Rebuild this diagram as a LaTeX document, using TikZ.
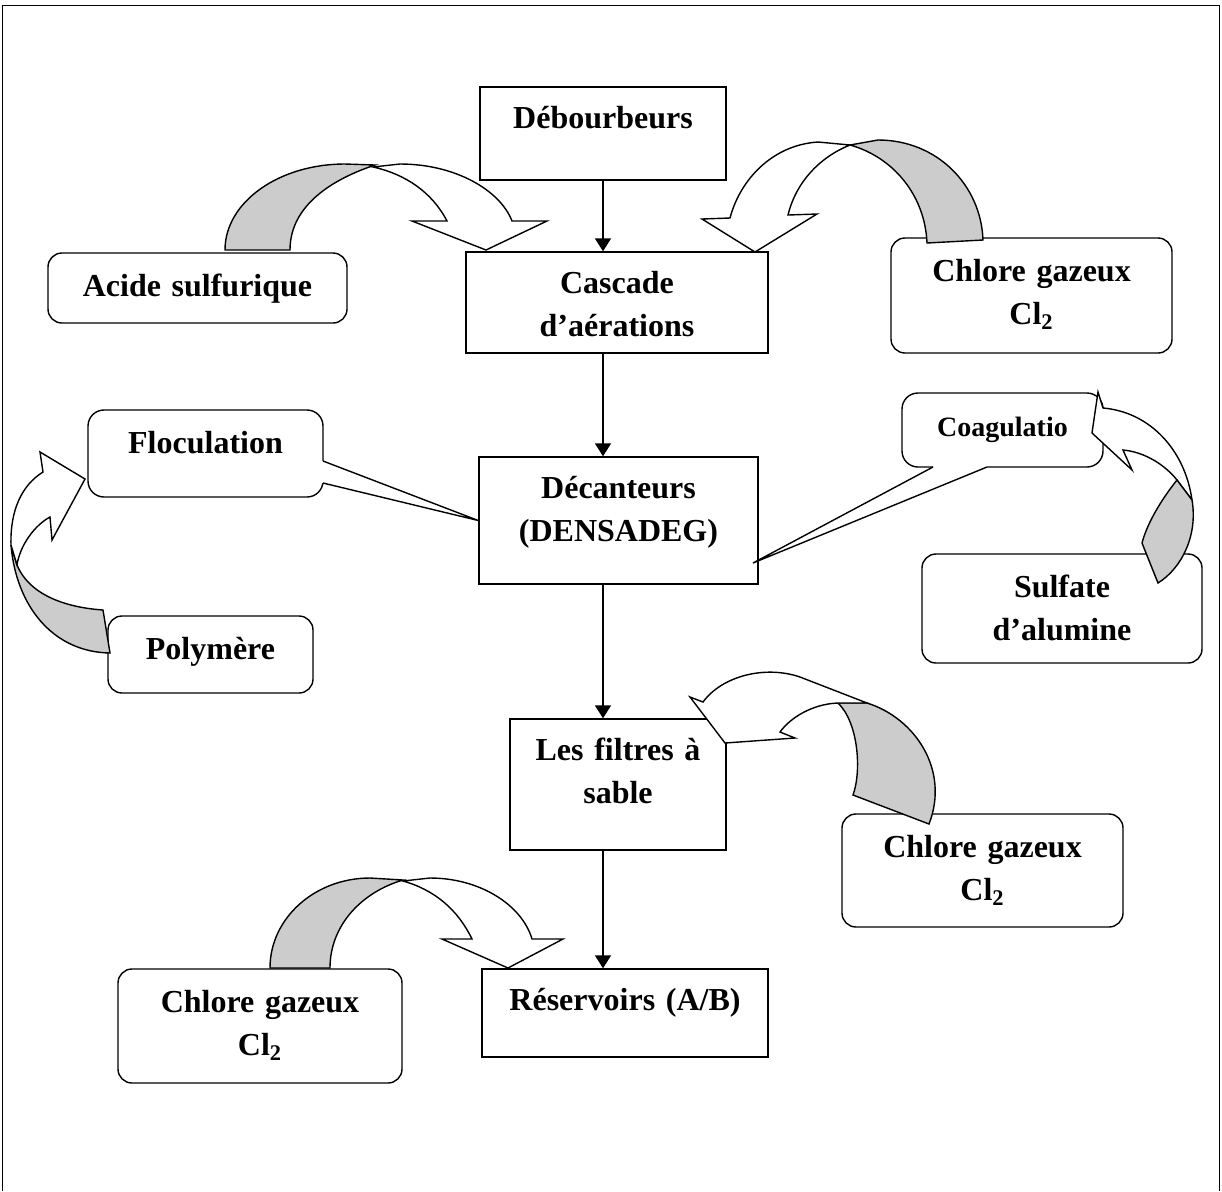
\documentclass[tikz,border=0pt]{standalone}
\usepackage{fontspec}
\setmainfont{Liberation Serif}
\usetikzlibrary{arrows.meta}
\tikzset{
    > = {Triangle[length=6.5pt,width=8pt]},
    mainbox/.style 2 args = {draw, line width=0.7pt, inner sep=0pt, align=center,
        text width=#1, text height=20.5pt, text depth=#2},
    sidebox/.style 2 args = {mainbox={#1}{#2}, rounded corners=7pt, text height=21.5pt},
    flow/.style = {->, line width=0.8pt},
    back/.style = {draw, line width=0.7pt, fill=gray!40},
    front/.style = {draw, line width=0.7pt, fill=white}
}

\begin{document}
\begin{tikzpicture}[x=0.5pt, y=-0.5pt, font=\bfseries\fontsize{16}{21.5}\selectfont]
    \useasboundingbox (0,0) rectangle (1222,1191);
    \draw[line width=0.7pt] (2.5,1191) -- (2.5,5.5) -- (1219.5,5.5) -- (1219.5,1191);

    % main line
    \node[mainbox={123pt}{26pt}] (deb) at (603,133.5) {Débourbeurs};
    \node[mainbox={151pt}{30pt}] (cas) at (617,302.5) {Cascade\\d’aérations};
    \node[mainbox={139.5pt}{43pt}] (dec) at (618.5,520.5) {Décanteurs\\(DENSADEG)};
    \node[mainbox={108pt}{45pt}] (fil) at (618,784.5) {Les filtres à\\sable};
    \node[mainbox={143pt}{23.5pt}] (res) at (625,1013) {Réservoirs (A/B)};

    \draw[flow] (deb) -- (deb |- cas.north);
    \draw[flow] (deb |- cas.south) -- (deb |- dec.north);
    \draw[flow] (deb |- dec.south) -- (deb |- fil.north);
    \draw[flow] (deb |- fil.south) -- (deb |- res.north);

    % reagents
    \node[sidebox={149.5pt}{13.5pt}] (acid) at (197.5,288) {Acide sulfurique};
    \node[sidebox={140.5pt}{36pt}] (clA) at (1031.5,295.5) {Chlore gazeux\\Cl\textsubscript{2}};
    \node[sidebox={117.5pt}{22pt}, rounded corners=8pt] (floc) at (205.5,453.5) {Floculation};
    \node[sidebox={102.5pt}{17pt}] (poly) at (210.5,654.5) {Polymère};
    \node[sidebox={100.5pt}{15.5pt}, rounded corners=8pt,
        font=\bfseries\fontsize{14}{18}\selectfont] (coag) at (1002.5,430) {Coagulatio};
    \node[sidebox={140pt}{33pt}] (sulf) at (1062,608.5) {Sulfate\\d’alumine};
    \node[sidebox={140.5pt}{35pt}] (clB) at (982.5,870.5) {Chlore gazeux\\Cl\textsubscript{2}};
    \node[sidebox={142pt}{35.5pt}] (clC) at (260,1026) {Chlore gazeux\\Cl\textsubscript{2}};

    % callout wedges
    \coordinate (coagtip) at (753,563);
    \fill[white] (320,461) -- (323,461) -- (dec.west) -- (323,483) -- (320,483) -- cycle;
    \draw[line width=0.7pt] (323,461) -- (dec.west) -- (323,483);
    \fill[white] (933,464) -- (933,467) -- (coagtip) -- (987,467) -- (987,464) -- cycle;
    \draw[line width=0.7pt] (933,467) -- (coagtip) -- (987,467);

    % curved arrows
    \draw[back] (225,250) .. controls (225,202) and (279,164) .. (345,164) -- (375,165) .. controls (333,179) and (290,205) .. (290,250) -- cycle;
    \draw[front] (373,167) -- (400,164) .. controls (455,164) and (500,190) .. (512,221) -- (547,221) -- (486,250) -- (412,221) -- (447,221) .. controls (432,192) and (405,174) .. (373,167) -- cycle;

    \draw[back] (983,240) .. controls (981,185) and (937,140) .. (878,140) -- (850,145) .. controls (893,157) and (925,195) .. (927,243) -- cycle;
    \draw[front] (850,145) -- (818,142) .. controls (772,145) and (740,180) .. (730,218) -- (702,219) -- (755,252) -- (817,214) -- (788,215) .. controls (796,182) and (820,157) .. (850,145) -- cycle;

    \draw[back] (270,968) .. controls (270,918) and (315,878) .. (370,878) -- (403,880) .. controls (362,892) and (330,925) .. (330,968) -- cycle;
    \draw[front] (403,881) -- (430,878) .. controls (480,878) and (522,905) .. (532,939) -- (563,939) -- (508,968) -- (442,939) -- (472,939) .. controls (458,910) and (435,890) .. (403,881) -- cycle;

    \draw[back] (853,795) .. controls (862,770) and (858,722) .. (838,703) -- (867,703) .. controls (915,718) and (950,770) .. (929,824) -- cycle;
    \draw[front] (838,703) .. controls (812,704) and (790,718) .. (780,732) -- (795,738) -- (725,743) -- (690,697) -- (703,702) .. controls (722,676) and (765,665) .. (800,677) -- (867,703) -- cycle;

    \draw[back] (103,610) .. controls (60,607) and (28,592) .. (17,565) -- (11,545) .. controls (16,605) and (52,652) .. (110,653) -- cycle;
    \draw[front] (17,565) .. controls (20,545) and (35,525) .. (50,517) -- (52,540) -- (85,479) -- (40,452) -- (43,472) .. controls (22,485) and (10,510) .. (11,545) -- cycle;

    \draw[front] (1103,408) .. controls (1150,412) and (1185,450) .. (1192,500) -- (1177,480) .. controls (1165,465) and (1145,452) .. (1123,450) -- (1132,470) -- (1092,433) -- (1098,392) -- cycle;
    \draw[back] (1177,480) .. controls (1165,495) and (1148,520) .. (1142,543) -- (1158,583) .. controls (1182,568) and (1198,535) .. (1192,500) -- cycle;
\end{tikzpicture}
\end{document}
